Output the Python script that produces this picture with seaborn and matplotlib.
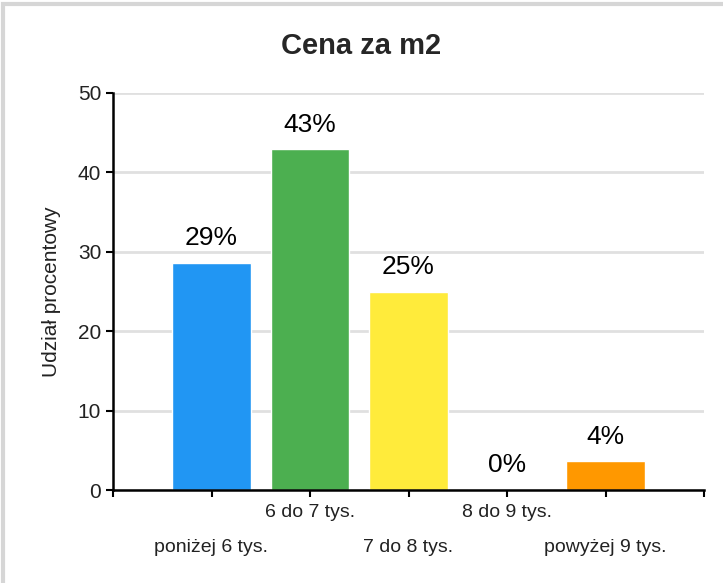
import matplotlib
matplotlib.use("Agg")
import matplotlib.pyplot as plt
from matplotlib.patches import Rectangle
import seaborn as sns
import pandas as pd

categories = ["poniżej 6 tys.", "6 do 7 tys.", "7 do 8 tys.", "8 do 9 tys.", "powyżej 9 tys."]
shares = [28.6, 42.9, 25.0, 0.0, 3.6]
share_labels = ["29%", "43%", "25%", "0%", "4%"]
bar_colors = ["#2196f3", "#4caf50", "#ffeb3b", "#9c27b0", "#ff9800"]
y_ticks = [0, 10, 20, 30, 40, 50]

df = pd.DataFrame({"kategoria": categories, "udzial": shares})

sns.set_style("white")
plt.rcParams["font.family"] = ["Liberation Sans", "DejaVu Sans"]

fig = plt.figure(figsize=(7.23, 5.83), dpi=100)
ax = fig.add_axes([113 / 723, 1 - 490 / 583, (704 - 113) / 723, (490 - 93) / 583])

sns.barplot(data=df, x="kategoria", y="udzial", hue="kategoria", order=categories,
            palette=bar_colors, width=0.8, saturation=1, legend=False, ax=ax)

# labels above bars
for cont, lab in zip(ax.containers, share_labels):
    ax.bar_label(cont, labels=[lab], padding=9, fontsize=19, color="black")

n = len(categories)
ax.set_xlim(-1, n)
ax.set_ylim(0, 50)
ax.set_yticks(y_ticks)
ax.set_yticklabels([str(t) for t in y_ticks], fontsize=15, color="#222222")

# staggered category labels: odd ones on major ticks (upper row),
# even ones on minor ticks with a bigger pad (lower row)
major_pos = [p for p in range(-1, n + 1) if p % 2 != 0]
minor_pos = [p for p in range(0, n) if p % 2 == 0]
ax.set_xticks(major_pos)
ax.set_xticklabels([categories[p] if 0 <= p < n else "" for p in major_pos],
                   fontsize=14, color="#222222")
ax.set_xticks(minor_pos, minor=True)
ax.set_xticklabels([categories[p] for p in minor_pos], minor=True,
                   fontsize=14, color="#222222")
ax.set_xlabel("")
ax.set_ylabel("Udział procentowy", fontsize=15, color="#222222", labelpad=12)

ax.yaxis.grid(True, color="#e0e0e0", linewidth=2)
ax.set_axisbelow(True)
sns.despine(ax=ax, top=True, right=True)
for side in ["left", "bottom"]:
    ax.spines[side].set_color("black")
    ax.spines[side].set_linewidth(1.8)
ax.tick_params(axis="both", which="both", direction="out", length=5, width=1.5,
               color="black", left=True, bottom=True)
ax.tick_params(axis="x", which="major", pad=5)
ax.tick_params(axis="x", which="minor", pad=30)

fig.suptitle("Cena za m2", fontsize=21, fontweight="bold", y=1 - 46 / 583, va="center")

# light frame around the chart
fig.patches.append(Rectangle((3 / 723, -0.05), 1.1, 1 - 4.5 / 583 + 0.05,
                             transform=fig.transFigure, fill=False,
                             edgecolor="#d6d6d6", linewidth=3))

fig.savefig("out.png", dpi=100)
